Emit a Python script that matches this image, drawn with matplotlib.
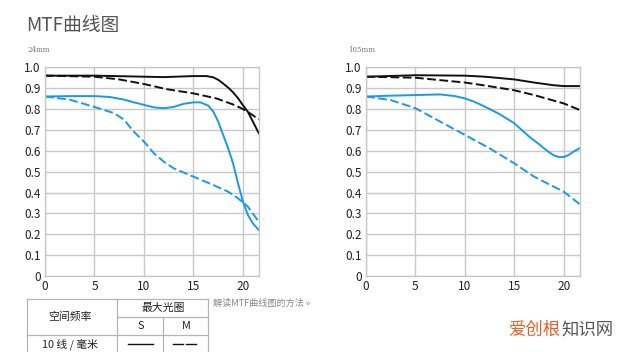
import matplotlib
matplotlib.use("Agg")
import matplotlib.pyplot as plt
from matplotlib.lines import Line2D

plt.rcParams['font.family'] = ['Noto Sans CJK SC', 'DejaVu Sans']

BLUE = '#1a98ec'
BLACK = '#111111'
GRID = '#c8c8c8'

# ---- data: 24mm ----
x24_s10 = [0, 5, 10, 12, 15, 16.3, 17, 17.5, 18, 18.5, 19, 19.5, 20, 20.5, 21, 21.6]
y24_s10 = [0.96, 0.96, 0.955, 0.953, 0.958, 0.958, 0.952, 0.94, 0.922, 0.903, 0.88, 0.852, 0.818, 0.786, 0.74, 0.684]
x24_m10 = [0, 5, 7.5, 10, 12.3, 15, 17.3, 19, 20, 20.5, 21, 21.6]
y24_m10 = [0.96, 0.955, 0.942, 0.92, 0.895, 0.875, 0.851, 0.822, 0.80, 0.786, 0.77, 0.75]
x24_s30 = [0, 2.5, 5, 6.5, 8, 9, 10, 11, 12, 13, 14, 15, 15.7, 16.5, 17, 17.5, 18, 18.5, 19, 19.5, 20, 20.5, 21, 21.6]
y24_s30 = [0.86, 0.862, 0.862, 0.858, 0.845, 0.832, 0.82, 0.808, 0.804, 0.81, 0.825, 0.832, 0.832, 0.816, 0.788, 0.74, 0.676, 0.612, 0.54, 0.444, 0.356, 0.292, 0.252, 0.22]
x24_m30 = [0, 2.5, 5, 7, 8, 9, 10, 11, 12, 13, 15, 17, 18.5, 19.5, 20.5, 21.6]
y24_m30 = [0.86, 0.845, 0.81, 0.78, 0.748, 0.69, 0.644, 0.588, 0.548, 0.516, 0.476, 0.436, 0.404, 0.372, 0.332, 0.26]

# ---- data: 105mm ----
x105_s10 = [0, 5, 10, 12, 15, 17, 19, 20, 21.6]
y105_s10 = [0.955, 0.962, 0.96, 0.955, 0.942, 0.927, 0.914, 0.91, 0.91]
x105_m10 = [0, 5, 10, 12, 15, 17, 20, 21.6]
y105_m10 = [0.955, 0.95, 0.927, 0.913, 0.89, 0.867, 0.827, 0.796]
x105_s30 = [0, 2.5, 5, 7.5, 9, 10, 11, 12, 13.5, 15, 16.5, 17.5, 18, 18.5, 19, 19.5, 20, 20.5, 21, 21.6]
y105_s30 = [0.86, 0.864, 0.867, 0.87, 0.862, 0.851, 0.834, 0.812, 0.776, 0.732, 0.668, 0.632, 0.612, 0.594, 0.578, 0.57, 0.57, 0.58, 0.596, 0.612]
x105_m30 = [0, 2.5, 5, 7.5, 10, 12.5, 15, 17, 18, 20, 21.6]
y105_m30 = [0.86, 0.843, 0.804, 0.74, 0.676, 0.612, 0.54, 0.476, 0.452, 0.404, 0.345]

xticks = [0, 5, 10, 15, 20]
yticks = [0, 0.1, 0.2, 0.3, 0.4, 0.5, 0.6, 0.7, 0.8, 0.9, 1.0]
ytick_labels = ['0', '0.1', '0.2', '0.3', '0.4', '0.5', '0.6', '0.7', '0.8', '0.9', '1.0']
panel_titles = ['24mm', '105mm']

W, H = 640, 352
fig = plt.figure(figsize=(6.4, 3.52), dpi=100)
fig.patch.set_facecolor('white')


def fx(px):
    return px / W


def fy(py):
    return 1 - py / H


def make_axes(left_px, right_px, series):
    ax = fig.add_axes([fx(left_px), fy(276), (right_px - left_px) / W, (276 - 67.3) / H])
    ax.set_xlim(0, 21.65)
    ax.set_ylim(0, 1.0)
    ax.set_xticks(xticks)
    ax.set_yticks(yticks)
    ax.set_yticklabels(ytick_labels)
    ax.grid(True, color=GRID, linewidth=1.0)
    ax.set_axisbelow(True)
    for s in ax.spines.values():
        s.set_color(GRID)
        s.set_linewidth(1.0)
    ax.tick_params(length=0, labelsize=8.5, colors='#222222', pad=3)
    for (xs, ys, color, dashed) in series:
        if dashed:
            ax.plot(xs, ys, color=color, lw=1.4, linestyle=(0, (4.5, 1.8)), clip_on=True,
                    solid_joinstyle='round')
        else:
            ax.plot(xs, ys, color=color, lw=1.4, clip_on=True, solid_joinstyle='round')
    return ax


make_axes(45, 259.3, [
    (x24_m30, y24_m30, BLUE, True),
    (x24_s30, y24_s30, BLUE, False),
    (x24_m10, y24_m10, BLACK, True),
    (x24_s10, y24_s10, BLACK, False),
])
make_axes(366, 580, [
    (x105_m30, y105_m30, BLUE, True),
    (x105_s30, y105_s30, BLUE, False),
    (x105_m10, y105_m10, BLACK, True),
    (x105_s10, y105_s10, BLACK, False),
])

# Title and panel labels
fig.text(fx(26), fy(26), 'MTF曲线图', fontsize=13.5, color='#555555', va='center', ha='left')
fig.text(fx(27), fy(50), panel_titles[0], fontsize=5, color='#777777', va='center', ha='left',
         family=['DejaVu Serif'])
fig.text(fx(348), fy(50), panel_titles[1], fontsize=5, color='#777777', va='center', ha='left',
         family=['DejaVu Serif'])

# Table
TC = '#b5b5b5'


def hline(x0, x1, y):
    fig.add_artist(Line2D([fx(x0), fx(x1)], [fy(y), fy(y)], color=TC, lw=0.9))


def vline(x, y0, y1):
    fig.add_artist(Line2D([fx(x), fx(x)], [fy(y0), fy(y1)], color=TC, lw=0.9))


hline(26.7, 208.3, 299)
hline(117.3, 208.3, 317)
hline(26.7, 208.3, 335)
vline(26.7, 299, 352)
vline(117.3, 299, 352)
vline(163.3, 317, 352)
vline(208.3, 299, 352)

tkw = dict(fontsize=7.8, color='#222222', ha='center', va='center')
fig.text(fx(70), fy(317), '空间频率', **tkw)
fig.text(fx(163), fy(308), '最大光圈', **tkw)
fig.text(fx(140.3), fy(326), 'S', **tkw)
fig.text(fx(186), fy(326), 'M', **tkw)
fig.text(fx(70), fy(344), '10 线 / 毫米', **tkw)
fig.add_artist(Line2D([fx(127.7), fx(153.3)], [fy(344), fy(344)], color=BLACK, lw=1.0))
fig.add_artist(Line2D([fx(172.7), fx(183)], [fy(344), fy(344)], color=BLACK, lw=1.0))
fig.add_artist(Line2D([fx(186), fx(196)], [fy(344), fy(344)], color=BLACK, lw=1.0))

fig.text(fx(213), fy(303), '解读MTF曲线图的方法 »', fontsize=6.6, color='#888888', ha='left', va='center')

# Watermark
fig.text(fx(508), fy(330), '爱创根', fontsize=12.5, color='#e0622a', ha='left', va='center')
fig.text(fx(561), fy(330), '知识网', fontsize=12.5, color='#555555', ha='left', va='center')

fig.savefig('out.png', dpi=100, facecolor='white')
